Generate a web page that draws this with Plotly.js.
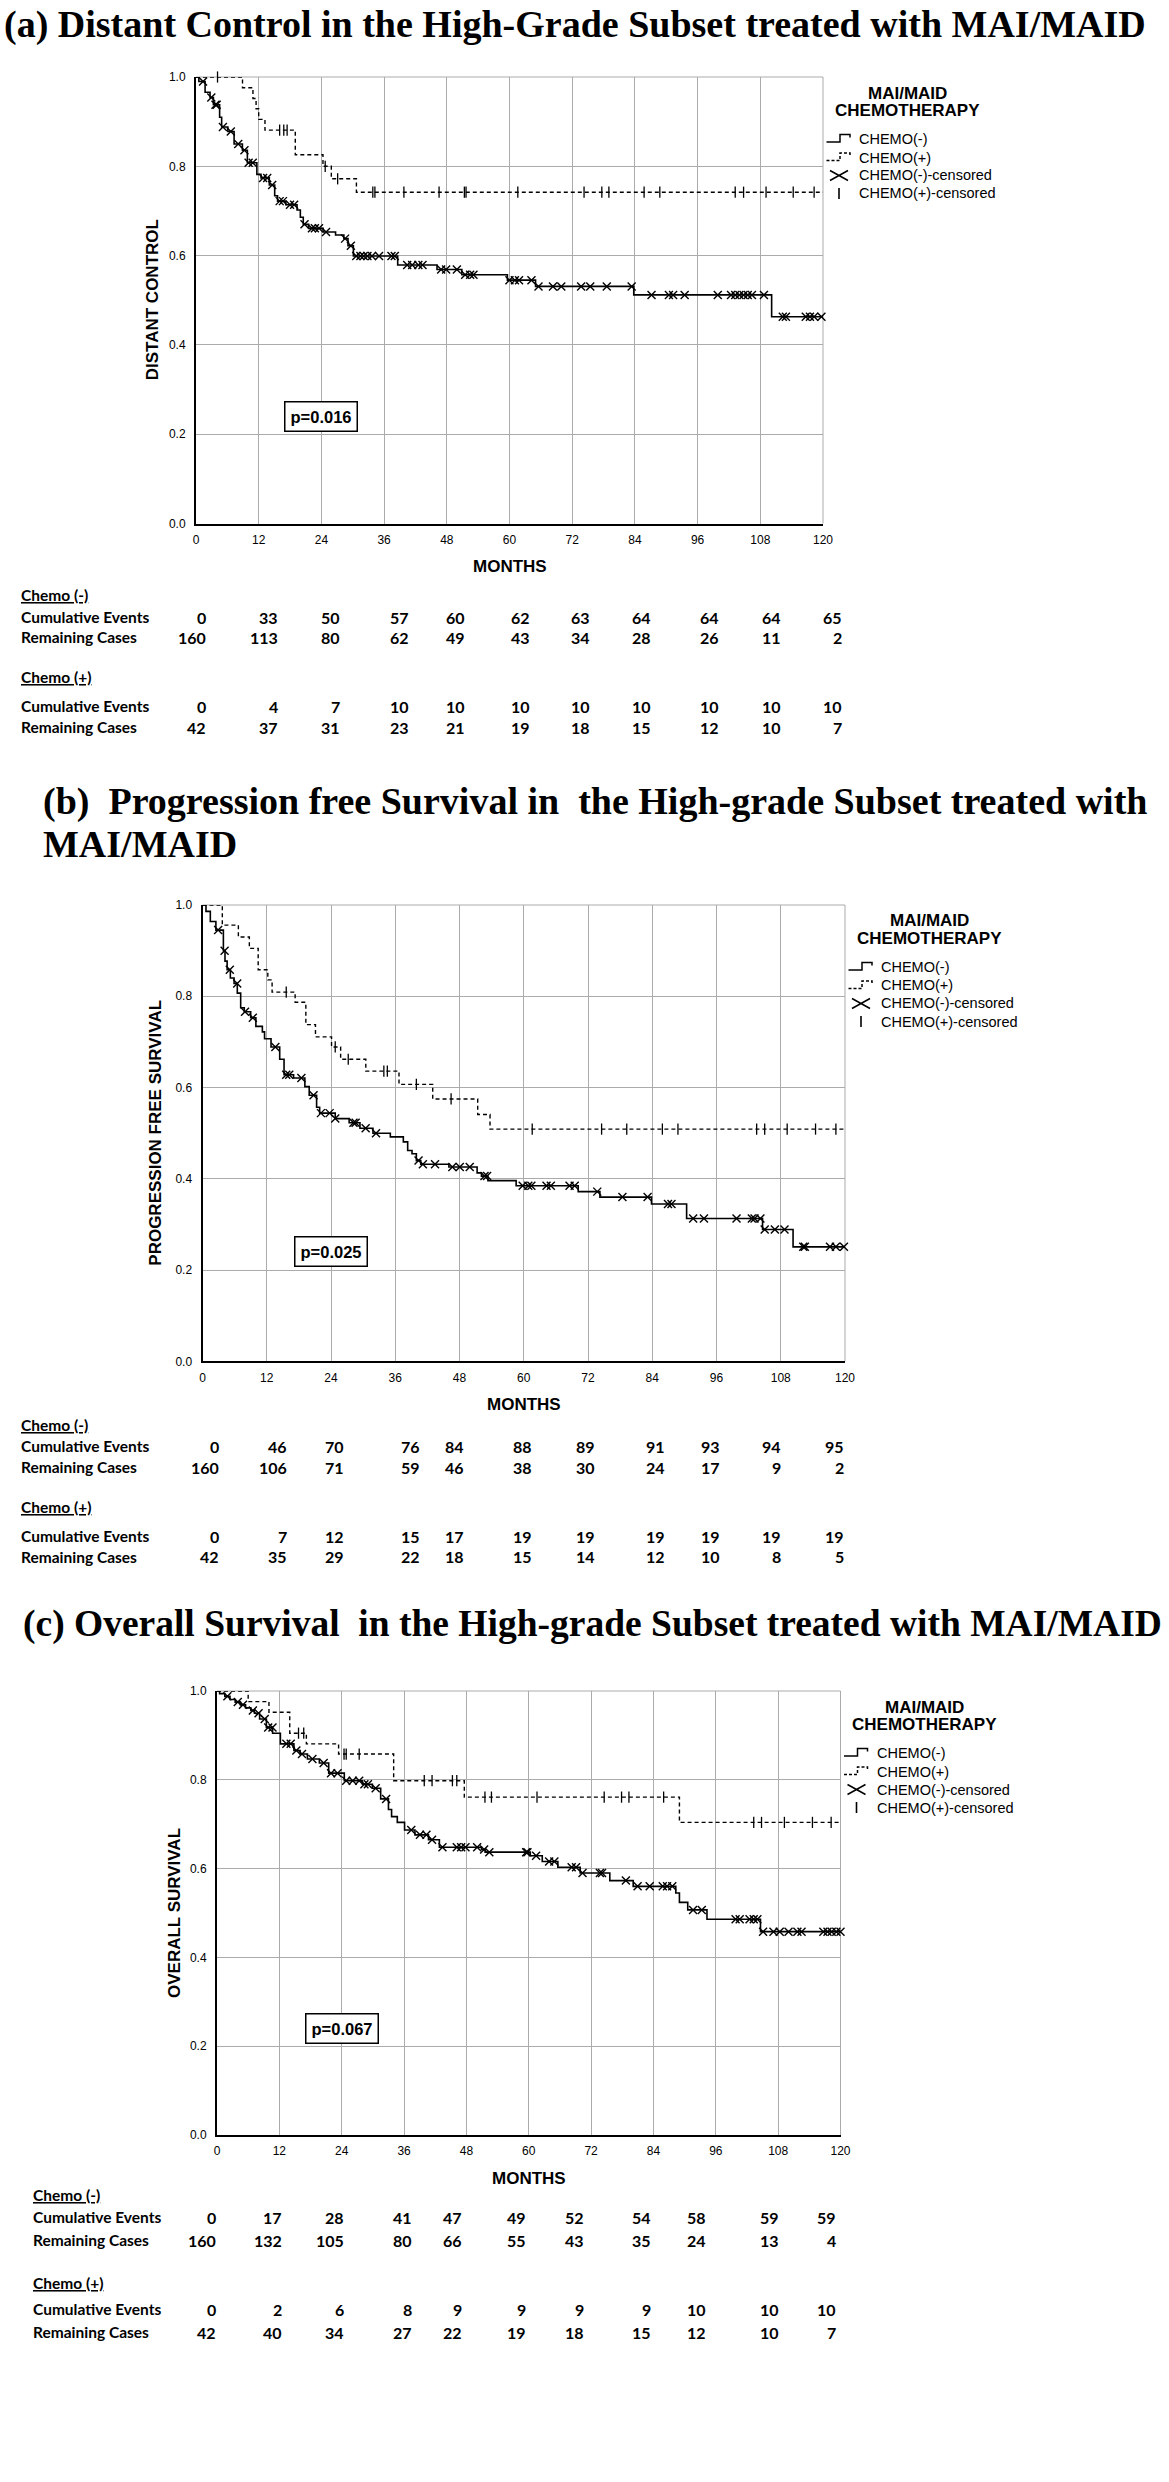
<!DOCTYPE html>
<html><head><meta charset="utf-8">
<script src="https://cdn.plot.ly/plotly-3.0.1.min.js"></script>
<style>html,body{margin:0;padding:0;background:#fff}#chart{width:1169px;height:2482px}</style>
</head><body><div id="chart"></div>
<script>
// ================= DATA =================
const monthTicks = [0,12,24,36,48,60,72,84,96,108,120];
const survTicks = [0,0.2,0.4,0.6,0.8,1.0];
const survTickLabels = ['0.0','0.2','0.4','0.6','0.8','1.0'];

const panelTitles = [
  ['(a) Distant Control in the High-Grade Subset treated with MAI/MAID'],
  ['(b)  Progression free Survival in  the High-grade Subset treated with','MAI/MAID'],
  ['(c) Overall Survival  in the High-grade Subset treated with MAI/MAID']
];
const yTitles = ['DISTANT CONTROL','PROGRESSION FREE SURVIVAL','OVERALL SURVIVAL'];
const xTitle = 'MONTHS';
const pValues = ['p=0.016','p=0.025','p=0.067'];
const legendTitle = ['MAI/MAID','CHEMOTHERAPY'];
const legendLabels = ['CHEMO(-)','CHEMO(+)','CHEMO(-)-censored','CHEMO(+)-censored'];
const tableGroups = ['Chemo (-)','Chemo (+)'];
const tableRows = ['Cumulative Events','Remaining Cases'];

// (a) Distant control
const aMinusT = [0,0.55,1.74,2.69,3.33,4.52,4.91,6.10,7.29,8.88,9.83,11.65,12.44,14.03,15.06,15.61,17.20,19.34,19.97,20.53,21.56,24.33,26.71,28.30,29.09,30.12,38.6,46.13,50.88,59.6,64.99,83.78,110.17,120];
const aMinusS = [1,0.990,0.966,0.954,0.938,0.910,0.888,0.878,0.850,0.836,0.808,0.782,0.774,0.758,0.734,0.722,0.714,0.702,0.686,0.670,0.661,0.653,0.646,0.638,0.622,0.599,0.579,0.569,0.557,0.545,0.531,0.512,0.463,0.463];
const aMinusCens = [1.35,2.93,3.73,3.96,5.15,6.66,8.08,9.27,10.07,10.86,12.84,13.63,14.58,16.01,16.64,17.99,18.78,20.77,22.19,22.75,23.54,24.89,28.53,29.64,30.67,31.47,32.10,32.81,33.68,35.03,37.41,38.04,40.42,41.37,42.56,43.35,46.92,47.87,49.93,51.52,52.47,53.10,59.99,61.03,61.82,64.20,65.55,68.32,69.91,73.71,75.45,78.62,83.38,87.18,90.51,91.31,93.52,99.86,102.4,103.2,104.0,104.8,105.6,106.4,108.7,112.3,112.9,116.7,117.5,118.3,119.7];
const aPlusT = [0,8.9,10.9,11.5,12.0,13.2,19.0,24.3,25.9,30.7,120];
const aPlusS = [1,0.976,0.952,0.929,0.905,0.881,0.826,0.800,0.772,0.742,0.742];
const aPlusCens = [4.12,16.01,16.80,17.44,24.73,27.11,33.84,34.24,39.79,46.52,51.36,51.68,61.59,74.27,77.67,79.02,85.76,88.77,103.2,104.8,109.1,114.3,118.3];
const aMinusEvents = [0,33,50,57,60,62,63,64,64,64,65];
const aMinusRemain = [160,113,80,62,49,43,34,28,26,11,2];
const aPlusEvents = [0,4,7,10,10,10,10,10,10,10,10];
const aPlusRemain = [42,37,31,23,21,19,18,15,12,10,7];

// (b) Progression free survival
const bMinusT = [0,0.65,1.46,2.5,3.9,4.2,4.6,5.2,5.9,6.5,7.13,7.8,9.0,9.97,11.18,11.59,12.8,14.42,15.23,17.01,19.12,19.93,21.31,21.88,24.79,27.39,29.41,31.84,35.08,37.51,38.32,39.13,39.94,40.76,46.02,51.29,52.10,53.31,58.58,70.17,74.22,83.86,90.42,104.6,110.3,120];
const bMinusS = [1,0.986,0.964,0.945,0.900,0.877,0.858,0.840,0.828,0.807,0.775,0.766,0.753,0.734,0.722,0.707,0.689,0.662,0.628,0.621,0.602,0.583,0.557,0.544,0.532,0.523,0.511,0.500,0.492,0.481,0.462,0.455,0.440,0.432,0.426,0.413,0.406,0.396,0.385,0.372,0.360,0.345,0.313,0.289,0.251,0.251];
const bMinusCens = [2.92,4.13,5.10,6.48,7.94,9.40,13.61,15.64,16.20,18.47,20.74,22.12,23.74,24.79,28.20,28.60,30.47,32.41,40.35,41.16,43.43,46.67,48.05,49.91,52.67,53.15,59.80,60.85,61.42,64.25,65.06,68.55,69.52,73.73,78.43,83.13,86.94,87.59,91.64,93.66,99.74,102.6,103.1,104.2,105.0,106.9,108.7,112.2,112.5,117.2,118.3,119.8];
const bPlusT = [0,3.7,6.7,8.75,10.4,12.2,13.0,17.3,19.3,21.1,24.1,25.8,30.5,36.7,43.0,51.4,53.7,120];
const bPlusS = [1,0.956,0.930,0.905,0.858,0.836,0.809,0.787,0.738,0.711,0.689,0.662,0.636,0.607,0.575,0.541,0.509,0.509];
const bPlusCens = [15.64,24.79,27.22,33.87,34.52,39.94,46.43,61.58,74.54,79.24,85.89,88.80,103.5,105.0,109.2,114.5,118.3];
const bMinusEvents = [0,46,70,76,84,88,89,91,93,94,95];
const bMinusRemain = [160,106,71,59,46,38,30,24,17,9,2];
const bPlusEvents = [0,7,12,15,17,19,19,19,19,19,19];
const bPlusRemain = [42,35,29,22,18,15,14,12,10,8,5];

// (c) Overall survival
const cMinusT = [0,0.5,1.5,2.5,3.5,4.5,5.5,6.5,7.2,8.2,9.5,10.7,12.2,14.8,16.0,17.4,19.7,21.5,24.5,28.0,29.9,31.5,33.0,33.6,34.7,36.1,38.1,40.7,42.8,50.9,51.6,60.3,62.6,65.6,69.9,75.6,80.1,88.3,89.0,90.6,94.3,104.6,120];
const cMinusS = [1,0.994,0.988,0.981,0.975,0.969,0.962,0.956,0.950,0.937,0.918,0.905,0.881,0.866,0.858,0.847,0.838,0.815,0.798,0.790,0.781,0.757,0.733,0.717,0.704,0.687,0.676,0.665,0.648,0.643,0.637,0.629,0.616,0.603,0.590,0.573,0.560,0.545,0.524,0.507,0.486,0.458,0.458];
const cMinusCens = [2.0,4.0,5.0,6.9,8.0,9.18,9.85,10.68,13.35,14.19,15.27,16.36,18.36,20.53,21.95,23.20,24.87,26.12,27.37,28.37,29.04,30.54,32.55,37.39,39.06,40.31,41.39,43.39,46.15,46.99,47.82,50.07,51.41,52.41,59.50,59.75,61.42,63.92,64.93,68.26,69.10,70.35,73.69,74.10,78.69,80.95,83.28,85.79,86.62,87.62,91.63,93.30,99.81,100.6,102.5,103.3,104.0,105.1,107.1,108.3,110.0,111.7,112.5,116.7,117.5,118.3,119.2,120.0];
const cPlusT = [0,6,10,14.0,17.2,23.4,34.0,47.6,89.0,120];
const cPlusS = [1,0.976,0.952,0.905,0.881,0.858,0.798,0.761,0.704,0.704];
const cPlusCens = [15.69,16.69,24.45,24.87,27.37,39.89,41.39,45.31,46.15,51.57,52.82,61.59,74.52,77.86,79.28,85.96,103.3,104.8,109.2,114.6,118.2];
const cMinusEvents = [0,17,28,41,47,49,52,54,58,59,59];
const cMinusRemain = [160,132,105,80,66,55,43,35,24,13,4];
const cPlusEvents = [0,2,6,8,9,9,9,9,10,10,10];
const cPlusRemain = [42,40,34,27,22,19,18,15,12,10,7];

// ================= LAYOUT GEOMETRY (pixels) =================
const W = 1169, H = 2482;
const panels = [
  {L:196, R:823, T:77, B:523.5, minusT:aMinusT, minusS:aMinusS, minusC:aMinusCens, plusT:aPlusT, plusS:aPlusS, plusC:aPlusCens,
   tab:[aMinusEvents,aMinusRemain,aPlusEvents,aPlusRemain],
   titleX:2, titleY:[24], titleSize:38,
   tabX:19, tabY:[595,617,637,677,706,727], cols:[208,280,342,411,467,532,592,653,721,783,844], yTitleOff:44},
  {L:202.5, R:845, T:905, B:1361.4, minusT:bMinusT, minusS:bMinusS, minusC:bMinusCens, plusT:bPlusT, plusS:bPlusS, plusC:bPlusCens,
   tab:[bMinusEvents,bMinusRemain,bPlusEvents,bPlusRemain],
   titleX:41, titleY:[802,844], titleSize:38,
   tabX:19, tabY:[1425,1446,1467,1507,1536,1557], cols:[221,289,346,422,466,534,597,667,722,783,846], yTitleOff:47},
  {L:217, R:840.5, T:1691, B:2135, minusT:cMinusT, minusS:cMinusS, minusC:cMinusCens, plusT:cPlusT, plusS:cPlusS, plusC:cPlusCens,
   tab:[cMinusEvents,cMinusRemain,cPlusEvents,cPlusRemain],
   titleX:21, titleY:[1624], titleSize:37.5,
   tabX:31, tabY:[2195,2217,2240,2283,2309,2332], cols:[218,284,346,414,464,528,586,653,708,781,838], yTitleOff:43}
];

const px = x => x / W;
const py = y => 1 - y / H;
const SANS = 'Liberation Sans, Arial, Helvetica, sans-serif';
const SERIF = 'Liberation Serif, Times New Roman, serif';
const TABF = 'Lato, Carlito, Calibri, sans-serif';

function stepAt(T, S, t) {
  let v = S[0];
  for (let i = 0; i < T.length; i++) { if (T[i] <= t) v = S[i]; else break; }
  return v;
}

const traces = [];
const layout = {
  width: W, height: H, margin: {l:0, r:0, t:0, b:0},
  paper_bgcolor: '#ffffff', plot_bgcolor: '#ffffff', showlegend: false,
  annotations: [], shapes: []
};

function ann(x, y, text, opt) {
  return Object.assign({xref:'paper', yref:'paper', x:px(x), y:py(y), text:text, showarrow:false,
    xanchor:'left', yanchor:'middle', font:{family:SANS, size:14, color:'#000'}}, opt || {});
}
function pathPx(points) {
  return points.map((p, i) => (i ? 'L' : 'M') + px(p[0]).toFixed(5) + ',' + py(p[1]).toFixed(5)).join(' ');
}
const GRID = '#ababab';

panels.forEach((p, i) => {
  const sfx = i === 0 ? '' : String(i + 1);
  const xr = 'x' + sfx, yr = 'y' + sfx;
  layout['xaxis' + sfx] = {
    domain:[px(p.L), px(p.R)], anchor:yr, range:[0,120], tickvals:monthTicks,
    ticktext:monthTicks.map(String), showgrid:true, gridcolor:GRID, gridwidth:1,
    showline:true, linecolor:'#000', linewidth:2, zeroline:false, ticks:'',
    ticklabelstandoff:4, tickfont:{family:SANS, size:12, color:'#000'}, fixedrange:true
  };
  layout['yaxis' + sfx] = {
    domain:[py(p.B), py(p.T)], anchor:xr, range:[0,1], tickvals:survTicks, ticktext:survTickLabels,
    showgrid:true, gridcolor:GRID, gridwidth:1, showline:true, linecolor:'#000', linewidth:2,
    zeroline:false, ticks:'', ticklabelstandoff:6, tickfont:{family:SANS, size:12, color:'#000'}, fixedrange:true
  };
  // gray top and right frame
  layout.shapes.push({type:'line', xref:xr+' domain', yref:yr+' domain', x0:0, x1:1, y0:1, y1:1, line:{color:GRID, width:1}, layer:'below'});
  layout.shapes.push({type:'line', xref:xr+' domain', yref:yr+' domain', x0:1, x1:1, y0:0, y1:1, line:{color:GRID, width:1}, layer:'below'});

  // curves
  traces.push({type:'scatter', mode:'lines', x:p.plusT, y:p.plusS, xaxis:xr, yaxis:yr,
    line:{shape:'hv', color:'#000', width:1.4, dash:'4px,3px'}, hoverinfo:'skip'});
  traces.push({type:'scatter', mode:'lines', x:p.minusT, y:p.minusS, xaxis:xr, yaxis:yr,
    line:{shape:'hv', color:'#000', width:1.6}, hoverinfo:'skip'});
  traces.push({type:'scatter', mode:'markers', x:p.plusC, y:p.plusC.map(t => stepAt(p.plusT, p.plusS, t)),
    xaxis:xr, yaxis:yr, cliponaxis:false,
    marker:{symbol:'line-ns-open', size:8, color:'#000', line:{color:'#000', width:1.3}}, hoverinfo:'skip'});
  traces.push({type:'scatter', mode:'markers', x:p.minusC, y:p.minusC.map(t => stepAt(p.minusT, p.minusS, t)),
    xaxis:xr, yaxis:yr, cliponaxis:false,
    marker:{symbol:'x-thin-open', size:8, color:'#000', line:{color:'#000', width:1.4}}, hoverinfo:'skip'});

  // p-value box
  layout.annotations.push({xref:xr, yref:yr, x:24, y:0.24, text:pValues[i], showarrow:false,
    xanchor:'center', yanchor:'middle', font:{family:SANS, size:16.5, color:'#000', weight:'bold'},
    bgcolor:'#fff', bordercolor:'#000', borderwidth:1.5, borderpad:5});

  // panel title
  panelTitles[i].forEach((t, k) => {
    layout.annotations.push(ann(p.titleX, p.titleY[k], t, {font:{family:SERIF, size:p.titleSize, color:'#000', weight:'bold'}}));
  });

  // axis titles
  layout.annotations.push(ann(p.L - p.yTitleOff, (p.T + p.B) / 2, yTitles[i],
    {xanchor:'center', textangle:-90, font:{family:SANS, size:17, color:'#000', weight:'bold'}}));
  layout.annotations.push(ann((p.L + p.R) / 2, p.B + 43, xTitle,
    {xanchor:'center', font:{family:SANS, size:17, color:'#000', weight:'bold'}}));

  // legend
  const R = p.R, T = p.T;
  layout.annotations.push(ann(R + 84, T + 16, legendTitle[0], {xanchor:'center', font:{family:SANS, size:17, color:'#000', weight:'bold'}}));
  layout.annotations.push(ann(R + 84, T + 33.5, legendTitle[1], {xanchor:'center', font:{family:SANS, size:17, color:'#000', weight:'bold'}}));
  const ly = [T + 62, T + 80.5, T + 98.5, T + 116.5];
  legendLabels.forEach((t, k) => {
    layout.annotations.push(ann(R + 34, ly[k], t, {font:{family:SANS, size:14.5, color:'#000'}}));
  });
  layout.shapes.push({type:'path', xref:'paper', yref:'paper',
    path:pathPx([[R+3.5, ly[0]+3], [R+17, ly[0]+3], [R+17, ly[0]-4.5], [R+27, ly[0]-4.5], [R+27, ly[0]-1.5]]),
    line:{color:'#000', width:1.5}});
  layout.shapes.push({type:'path', xref:'paper', yref:'paper',
    path:pathPx([[R+3.5, ly[1]+3], [R+17, ly[1]+3], [R+17, ly[1]-4.5], [R+27, ly[1]-4.5], [R+27, ly[1]-1.5]]),
    line:{color:'#000', width:1.5, dash:'3px,2px'}});
  layout.shapes.push({type:'path', xref:'paper', yref:'paper',
    path:pathPx([[R+7, ly[2]-5], [R+25, ly[2]+5]]) + ' ' + pathPx([[R+7, ly[2]+5], [R+25, ly[2]-5]]),
    line:{color:'#000', width:1.5}});
  layout.shapes.push({type:'line', xref:'paper', yref:'paper', x0:px(R+16), x1:px(R+16), y0:py(ly[3]-5.5), y1:py(ly[3]+5.5),
    line:{color:'#000', width:1.6}});

  // number-at-risk table
  const tf = {family:TABF, size:15.5, color:'#000', weight:'bold'};
  layout.annotations.push(ann(p.tabX, p.tabY[0], '<u>' + tableGroups[0] + '</u>', {font:tf}));
  layout.annotations.push(ann(p.tabX, p.tabY[1], tableRows[0], {font:tf}));
  layout.annotations.push(ann(p.tabX, p.tabY[2], tableRows[1], {font:tf}));
  layout.annotations.push(ann(p.tabX, p.tabY[3], '<u>' + tableGroups[1] + '</u>', {font:tf}));
  layout.annotations.push(ann(p.tabX, p.tabY[4], tableRows[0], {font:tf}));
  layout.annotations.push(ann(p.tabX, p.tabY[5], tableRows[1], {font:tf}));
  const rowY = [p.tabY[1], p.tabY[2], p.tabY[4], p.tabY[5]];
  p.tab.forEach((vals, r) => {
    vals.forEach((v, c) => {
      layout.annotations.push(ann(p.cols[c], rowY[r], String(v), {xanchor:'right', font:{family:TABF, size:16, color:'#000', weight:'bold'}}));
    });
  });
});

Plotly.newPlot('chart', traces, layout, {staticPlot:true, displayModeBar:false});
</script>
</body></html>
